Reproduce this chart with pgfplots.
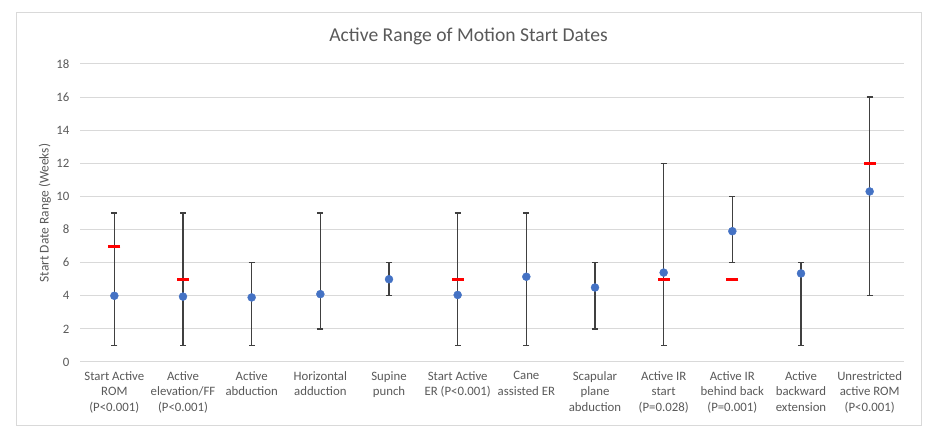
\documentclass[border=0pt]{standalone}
\usepackage{pgfplots}
\usepackage{pgfplotstable}
\pgfplotsset{compat=1.18}
\usepackage{fontspec}
\setmainfont{Carlito}

\definecolor{dotblue}{HTML}{4472C4}
\definecolor{gridgray}{HTML}{D9D9D9}
\definecolor{textgray}{HTML}{595959}
\definecolor{bargray}{HTML}{404040}

% x, mean start week, earliest, latest
\pgfplotstableread{
x mean lo hi
0 4.00 1 9
1 3.95 1 9
2 3.90 1 6
3 4.10 2 9
4 5.00 4 6
5 4.05 1 9
6 5.15 1 9
7 4.50 2 6
8 5.40 1 12
9 7.90 6 10
10 5.35 1 6
11 10.30 4 16
}\ranges

% red markers
\pgfplotstableread{
x val
0 7
1 5
5 5
8 5
9 5
11 12
}\redmarks

\begin{document}
\begin{tikzpicture}[x=1pt,y=1pt]
\useasboundingbox (0,0) rectangle (934,439);
\draw[gridgray, line width=1pt] (16,14) rectangle (921,426);
\begin{axis}[
  at={(80pt,77pt)}, anchor=south west,
  width=824pt, height=298pt, scale only axis,
  xmin=-0.5, xmax=11.5, ymin=0, ymax=18,
  ytick={0,2,...,18},
  xtick={0,...,11},
  xticklabels={
    {Start Active\\ROM\\(P<0.001)},
    {Active\\elevation/FF\\(P<0.001)},
    {Active\\abduction},
    {Horizontal\\adduction},
    {Supine\\punch},
    {Start Active\\ER (P<0.001)},
    {Cane\\assisted ER},
    {Scapular\\plane\\abduction},
    {Active IR\\start\\(P=0.028)},
    {Active IR\\behind back\\(P=0.001)},
    {Active\\backward\\extension},
    {Unrestricted\\active ROM\\(P<0.001)}},
  axis line style={draw=none},
  major tick length=0pt,
  ymajorgrids, grid style={gridgray, line width=1pt},
  tick label style={font=\fontsize{12.8}{15.4}\selectfont, text=textgray},
  /pgf/number format/assume math mode=true,
  xticklabel style={align=center, anchor=north, yshift=-6pt},
  yticklabel style={xshift=-7pt},
  ylabel={Start Date Range (Weeks)},
  ylabel style={at={(axis description cs:-0.0425,0.5)}, anchor=center,
    font=\fontsize{13.4}{16}\selectfont, text=textgray},
  clip=false,
]
\addplot[only marks, mark=none,
  error bars/.cd, y dir=both, y explicit,
  error bar style={bargray, line width=1.3pt},
  error mark options={rotate=90, mark size=3pt, bargray, line width=1.3pt}]
  table[x=x, y=mean,
    y error plus expr=\thisrow{hi}-\thisrow{mean},
    y error minus expr=\thisrow{mean}-\thisrow{lo}] {\ranges};
\addplot[only marks, mark=*, mark size=4pt,
  mark options={draw=dotblue, fill=dotblue}]
  table[x=x, y=mean] {\ranges};
\addplot[only marks, mark=-, mark size=6pt,
  mark options={draw=red, line width=3pt}]
  table[x=x, y=val] {\redmarks};
\end{axis}
\node[text=textgray, font=\fontsize{19.6}{24}\selectfont] at (468.5,403) {Active Range of Motion Start Dates};
\end{tikzpicture}
\end{document}
